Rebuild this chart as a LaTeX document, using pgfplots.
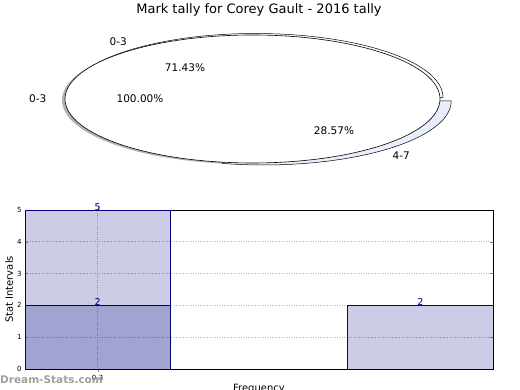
\documentclass[border=0pt]{standalone}
\usepackage{fontspec}
\setmainfont{DejaVu Sans}
\usepackage{pgfplots}
\pgfplotsset{compat=1.18}
\definecolor{navyc}{RGB}{0,0,128}
\definecolor{wedgeb}{RGB}{232,238,251}
\begin{document}
\begin{tikzpicture}[x=1pt,y=1pt]
\useasboundingbox (0,0) rectangle (520,390);
% ---------------- pie (pixel coordinate axis) ----------------
\begin{axis}[at={(0pt,0pt)}, anchor=south west, scale only axis,
  width=520pt, height=390pt, xmin=0, xmax=520, ymin=0, ymax=390,
  hide axis, clip=false]
\pgfmathsetmacro{\vA}{5}
\pgfmathsetmacro{\vB}{2}
\pgfmathsetmacro{\A}{360*\vA/(\vA+\vB)}
% shadow of the full pie
\fill[gray!60] (axis cs:249.5,289.8) ellipse [x radius=187.5pt, y radius=64pt];
% second pie: 0-3 wedge
\filldraw[fill=white, draw=black, line width=0.5pt] (axis cs:255.5,292.5) -- ++(187.5pt,0pt)
  arc[start angle=0, end angle=\A, x radius=187.5pt, y radius=64pt] -- cycle;
% second pie: 4-7 wedge (exploded)
\filldraw[fill=wedgeb, draw=black, line width=0.5pt] (axis cs:263.7,289.0) -- ++(\A:187.5pt and 64pt)
  arc[start angle=\A, end angle=360, x radius=187.5pt, y radius=64pt] -- cycle;
% full pie 0-3 100%
\filldraw[fill=white, draw=black, line width=0.6pt] (axis cs:252.5,291) ellipse [x radius=187.5pt, y radius=64pt];
\begin{scope}[every node/.style={font=\fontsize{10.5}{12}\selectfont, inner sep=0pt}]
\node at (axis cs:259,380) {\fontsize{13}{15}\selectfont Mark tally for Corey Gault - 2016 tally};
\node[anchor=east] at (axis cs:127,348) {0-3};
\node[anchor=east] at (axis cs:46.5,291) {0-3};
\node at (axis cs:185,322.5) {71.43\%};
\node at (axis cs:140,291) {100.00\%};
\node at (axis cs:334,259) {28.57\%};
\node[anchor=west] at (axis cs:392.5,234) {4-7};
\end{scope}
\end{axis}
% ---------------- bar chart ----------------
\begin{axis}[at={(25pt,21pt)}, anchor=south west, scale only axis,
  width=468pt, height=159pt,
  xmin=-0.225, xmax=1.225, ymin=0, ymax=5,
  xtick={0}, xticklabels={0-3}, ytick={0,1,2,3,4,5},
  /pgf/number format/assume math mode=true,
  tick label style={font=\fontsize{7}{8}\selectfont},
  tick align=inside, major tick length=3pt,
  grid=major, major grid style={dotted, gray!60, line width=0.8pt},
  axis line style={black, line width=0.6pt},
  ylabel={Stat Intervals}, xlabel={Frequency},
  label style={font=\fontsize{10}{12}\selectfont},
  ylabel style={at={(axis description cs:-0.034,0.5)}, anchor=center},
  xlabel style={at={(axis description cs:0.5,-0.125)}, anchor=center},
  ybar, bar shift=0pt, bar width=0.45,
  nodes near coords,
  every node near coord/.style={font=\fontsize{9.5}{10}\selectfont, text=navyc, fill opacity=1, text opacity=1, anchor=center, yshift=3pt},
  ]
\addplot[fill=navyc, fill opacity=0.2, draw=navyc, line width=0.6pt] coordinates {(0,5) (1,2)};
\addplot[fill=navyc, fill opacity=0.2, draw=navyc, line width=0.6pt] coordinates {(0,2)};
\end{axis}
\node[text=gray!75, font=\bfseries\fontsize{10.5}{12}\selectfont, inner sep=0pt, anchor=west] at (0,10) {Dream-Stats.com};
\end{tikzpicture}
\end{document}
